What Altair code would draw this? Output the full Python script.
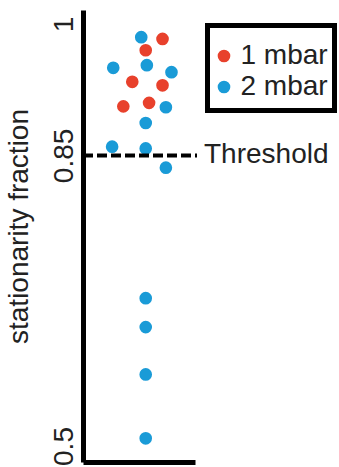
import altair as alt
import pandas as pd

# data
red_x = [0.71, 0.56, 0.44, 0.71, 0.36, 0.59]
red_y = [0.983, 0.970, 0.934, 0.930, 0.906, 0.910]
blue_x = [0.52, 0.27, 0.57, 0.79, 0.74, 0.56, 0.26, 0.56, 0.74, 0.56, 0.56, 0.56, 0.56]
blue_y = [0.985, 0.950, 0.953, 0.945, 0.905, 0.887, 0.860, 0.858, 0.836, 0.687, 0.654, 0.600, 0.527]
groups = ["1 mbar", "2 mbar"]
colors = ["#E8412C", "#1A9BD7"]
threshold = 0.85
y_ticks = [0.5, 0.85, 1]

df = pd.DataFrame({
    "x": red_x + blue_x,
    "y": red_y + blue_y,
    "g": [groups[0]] * len(red_x) + [groups[1]] * len(blue_x),
})

FONT = "Liberation Sans"

yscale = alt.Scale(domain=[0.5, 1.016], nice=False, zero=False)

# frame drawn around the legend
frame = alt.Chart(pd.DataFrame({"k": [0]})).mark_rect(
    fill="white", stroke="black", strokeWidth=5
).encode(x=alt.value(124.5), x2=alt.value(251.5), y=alt.value(15.5), y2=alt.value(100.5))

points = alt.Chart(df).mark_circle(size=160, opacity=1).encode(
    x=alt.X("x:Q", scale=alt.Scale(domain=[0, 1], nice=False, zero=False),
            axis=alt.Axis(labels=False, ticks=False, title=None, grid=False,
                          domainWidth=5, domainColor="black")),
    y=alt.Y("y:Q", scale=yscale,
            axis=alt.Axis(values=y_ticks, format="~g", title="stationarity fraction",
                          grid=False, ticks=False, tickSize=0, domainWidth=5,
                          domainColor="black", labelAngle=-90, labelAlign="center",
                          labelBaseline="alphabetic", labelPadding=11,
                          labelFont=FONT, labelFontSize=28, labelColor="#222",
                          labelFlush=False, labelOverlap=False,
                          labelOffset={"condition": {"test": "datum.value == 0.5", "value": -16}, "value": 0},
                          titleFont=FONT, titleFontSize=28, titleFontWeight="normal",
                          titleColor="#222", titleX=-50, titleY=216,
                          titleBaseline="bottom", titleAngle=-90)),
    color=alt.Color("g:N", scale=alt.Scale(domain=groups, range=colors),
                    legend=alt.Legend(title=None, orient="none", legendX=124, legendY=32,
                                      padding=0, labelFont=FONT, labelFontSize=28,
                                      labelColor="#222", symbolSize=160, symbolType="circle",
                                      symbolOffset=3, labelOffset=2.5,
                                      rowPadding=3)),
)

rule = alt.Chart(pd.DataFrame({"t": [threshold]})).mark_rule(
    color="black", strokeWidth=4, strokeDash=[10, 4]
).encode(y=alt.Y("t:Q", scale=yscale), x=alt.value(0), x2=alt.value(114))

label = alt.Chart(pd.DataFrame({"t": [threshold], "s": ["Threshold"]})).mark_text(
    align="left", baseline="middle", font=FONT, fontSize=28, color="#222"
).encode(y=alt.Y("t:Q", scale=yscale), x=alt.value(121), text="s:N")

chart = alt.layer(frame, points, rule, label).properties(
    width=112, height=452,
    background="white",
    autosize=alt.AutoSizeParams(type="none"),
    padding={"left": 83, "top": 10, "right": 144, "bottom": 5},
).configure_view(stroke=None)

chart.save("out.html", embed_options={"renderer": "svg", "actions": False})
